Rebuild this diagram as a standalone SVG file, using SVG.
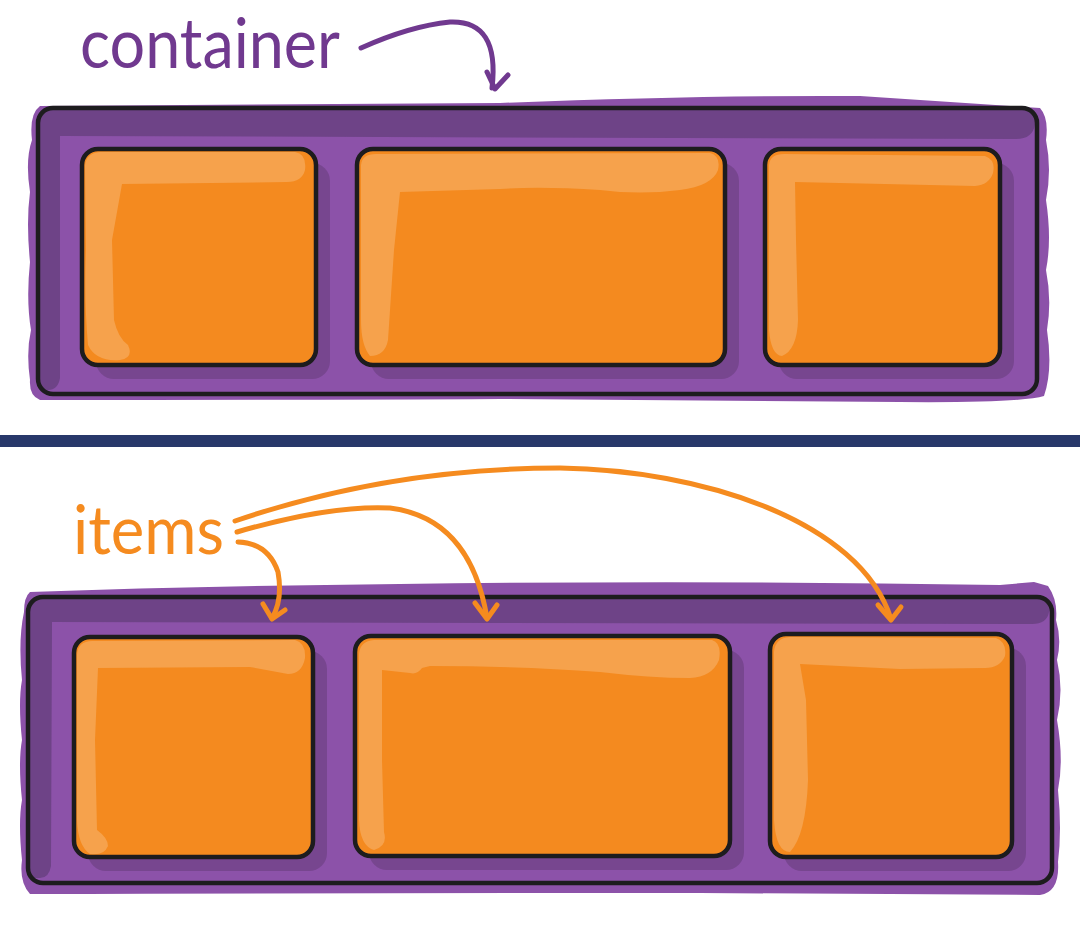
<svg xmlns="http://www.w3.org/2000/svg" width="1080" height="930" viewBox="0 0 1080 930">
<style>
.blob{fill:#8c52a9}
.band{fill:#6e4387}
.outline{fill:none;stroke:#1d1c1e;stroke-width:4.5;stroke-linejoin:round}
.shadow{fill:#77468f}
.item{fill:#f48a1f}
.hl{fill:#f6a24c}
.lblP{font-family:Lato,"Open Sans",sans-serif;fill:#70398f}
.lblO{font-family:Lato,"Open Sans",sans-serif;fill:#f58b1f}
.arP{fill:none;stroke:#70398f;stroke-width:5;stroke-linecap:round;stroke-linejoin:round}
.arO{fill:none;stroke:#f58b1f;stroke-width:5;stroke-linecap:round;stroke-linejoin:round}
</style>
<rect width="1080" height="930" fill="#ffffff"/>

<!-- TOP SECTION -->
<g id="container-top">
  <path class="blob" d="M40,106 L500,103 Q700,95 860,96 L1040,108 Q1049,118 1046,140 Q1052,170 1046,200 Q1052,240 1046,270 Q1052,300 1047,330 Q1053,370 1044,396 Q1020,403 900,402 L500,399 Q300,400 40,400 Q29,396 30,380 Q26,352 31,330 Q26,300 30,262 Q26,222 30,192 Q25,160 32,140 Q29,114 40,106 Z"/>
  <path class="band" d="M40,122 Q40,110 52,110 L1022,110 Q1036,110 1035,124 Q1033,139 1016,139 L60,136 L60,378 Q58,390 48,390 L40,390 Z"/>
  <rect class="outline" x="38" y="108" width="999" height="286" rx="15"/>
</g>

<g id="item-top-1">
  <rect class="shadow" x="96" y="163" width="234" height="216" rx="18"/>
  <rect class="item" x="82" y="149" width="234" height="216" rx="16"/>
  <path class="hl" d="M85,166 Q86,153 100,152 L295,152 Q307,154 305,170 Q302,182 287,182 L122,184 L112,240 L114,320 Q118,338 128,345 Q134,358 120,360 Q96,362 88,345 Q84,300 86,250 Z"/>
  <rect class="outline" x="82" y="149" width="234" height="216" rx="16"/>
</g>
<g id="item-top-2">
  <rect class="shadow" x="371" y="163" width="368" height="216" rx="18"/>
  <rect class="item" x="357" y="149" width="368" height="216" rx="16"/>
  <path class="hl" d="M361,165 Q362,154 376,154 L710,153 Q721,156 718,170 Q712,186 680,190 Q640,195 600,190 Q540,186 500,189 L400,192 L394,250 L388,340 Q385,356 370,356 Q361,345 361,320 Z"/>
  <rect class="outline" x="357" y="149" width="368" height="216" rx="16"/>
</g>
<g id="item-top-3">
  <rect class="shadow" x="779" y="163" width="235" height="216" rx="18"/>
  <rect class="item" x="765" y="149" width="235" height="216" rx="16"/>
  <path class="hl" d="M769,165 Q770,154 784,154 L985,156 Q996,160 993,173 Q989,185 975,186 L795,182 L796,240 L798,320 Q797,350 782,356 Q771,355 769,330 Z"/>
  <rect class="outline" x="765" y="149" width="235" height="216" rx="16"/>
</g>

<g id="label-container">
  <text class="lblP" x="80" y="68" font-size="70" textLength="260" lengthAdjust="spacingAndGlyphs">container</text>
</g>

<!-- DIVIDER -->
<rect id="divider" x="0" y="435" width="1080" height="12" fill="#28386a"/>

<!-- BOTTOM SECTION -->
<g id="container-bottom">
  <path class="blob" d="M30,592 Q200,586 400,584 Q700,580 1000,585 L1034,582 L1048,586 Q1058,600 1056,620 Q1062,640 1057,660 Q1064,690 1057,720 Q1064,760 1058,790 Q1062,830 1058,862 Q1060,892 1040,895 L700,893 Q400,893 30,894 Q19,882 22,860 Q18,822 22,800 Q18,762 22,740 Q18,702 22,680 Q18,640 24,612 Q24,597 30,592 Z"/>
  <path class="band" d="M30,612 Q30,599 43,599 L1038,599 Q1050,599 1049,612 Q1047,624 1032,624 L52,622 L51,866 Q49,878 40,878 L30,878 Z"/>
  <rect class="outline" x="28" y="597" width="1024" height="286" rx="15"/>
</g>

<g id="item-bottom-1">
  <rect class="shadow" x="88" y="651" width="239" height="220" rx="18"/>
  <rect class="item" x="74" y="637" width="239" height="220" rx="16"/>
  <path class="hl" d="M77,655 Q78,641 92,641 L295,640 Q306,643 305,658 Q302,674 288,674 L250,667 L98,668 L95,740 L97,830 Q108,838 108,846 Q104,856 90,854 Q78,846 77,820 Z"/>
  <rect class="outline" x="74" y="637" width="239" height="220" rx="16"/>
</g>
<g id="item-bottom-2">
  <rect class="shadow" x="369" y="650" width="375" height="220" rx="18"/>
  <rect class="item" x="355" y="636" width="375" height="220" rx="16"/>
  <path class="hl" d="M359,654 Q360,641 374,640 L712,640 Q722,643 719,660 Q712,677 690,678 Q650,678 600,672 Q520,666 430,666 L422,668 Q417,675 410,673 L382,670 L382,760 L384,832 Q388,846 374,850 Q360,846 359,820 Z"/>
  <rect class="outline" x="355" y="636" width="375" height="220" rx="16"/>
</g>
<g id="item-bottom-3">
  <rect class="shadow" x="784" y="648" width="242" height="223" rx="18"/>
  <rect class="item" x="770" y="634" width="242" height="223" rx="16"/>
  <path class="hl" d="M774,652 Q775,638 790,637 L996,638 Q1007,642 1005,656 Q1000,668 985,668 L900,669 L800,664 L806,700 L808,780 Q806,835 790,852 Q776,852 774,820 Z"/>
  <rect class="outline" x="770" y="634" width="242" height="223" rx="16"/>
</g>

<g id="label-items">
  <text class="lblO" x="73" y="554" font-size="68" textLength="151" lengthAdjust="spacingAndGlyphs">items</text>
</g>

<!-- CONNECTORS -->
<g id="connectors">
  <path class="arP" d="M361,48 Q410,26 450,22 Q500,20 492,88"/>
  <path class="arP" d="M487,72 L495,89 L508,75"/>

  <path class="arO" d="M235,521 Q390,468 560,468 C700,470 860,520 891,619"/>
  <path class="arO" d="M878,605 L891,620 L901,607"/>

  <path class="arO" d="M237,532 Q330,505 390,508 Q470,518 487,618"/>
  <path class="arO" d="M475,603 L487,619 L497,605"/>

  <path class="arO" d="M238,542 Q268,543 278,572 Q283,600 272,618"/>
  <path class="arO" d="M263,604 L272,619 L285,610"/>
</g>
</svg>
